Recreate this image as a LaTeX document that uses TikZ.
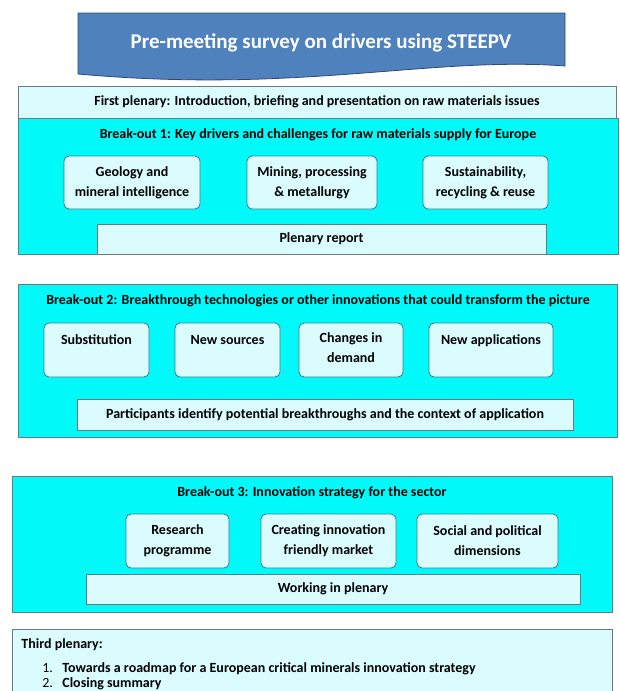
\documentclass[tikz,border=0pt]{standalone}
\usepackage{fontspec}
\setmainfont{Carlito}
\definecolor{bannerblue}{RGB}{79,129,189}
\definecolor{bannerdark}{RGB}{44,74,120}
\definecolor{breakcyan}{RGB}{0,250,250}
\definecolor{palecyan}{RGB}{218,252,254}
\definecolor{boxgrey}{RGB}{110,120,122}
\definecolor{topicedge}{RGB}{60,120,130}

\begin{document}
\begin{tikzpicture}[x=1pt,y=-1pt,line width=0.8pt,
	font=\bfseries\fontsize{14}{20}\selectfont,
	group/.style={draw=boxgrey,fill=breakcyan,inner sep=0pt},
	plenary/.style={draw=boxgrey,fill=palecyan,align=center,inner sep=0pt},
	topic/.style={draw=topicedge,fill=palecyan,rounded corners=5pt,align=center,inner sep=0pt},
	idea/.style={topic,minimum height=54pt,inner sep=6pt}]
	\useasboundingbox (0,0) rectangle (619,691);
	
	% survey banner
	\draw [draw=bannerdark,fill=bannerblue] (78,13) -- (565,13) -- (565,66)
		.. controls (430,56) and (300,94) .. (78,74) -- cycle;
	\node [text=white,font=\bfseries\fontsize{21}{24}\selectfont] (survey) at (321,43)
		{Pre-meeting survey on drivers using STEEPV};
	
	% first plenary and break-out 1
	\node [group,minimum width=600pt,minimum height=136pt] (break 1) at (318,186) {};
	\node [plenary,minimum width=598pt,minimum height=32pt] (first) at (317,102)
		{First plenary: Introduction, briefing and presentation on raw materials issues};
	\node (title 1) at (318,135) {Break-out 1: Key drivers and challenges for raw materials supply for Europe};
	\foreach [count=\n] \x/\w/\t in {132/136/{Geology and\\mineral intelligence},
		312/130/{Mining, processing\\\& metallurgy},485.5/125/{Sustainability,\\recycling \& reuse}}{
		\node [topic,minimum width=\w pt,minimum height=53pt] (driver \n) at (\x,182.5) {\t};
	}
	\node [plenary,minimum width=449pt,minimum height=30pt] (report) at (321.5,239) {Plenary report};
	
	% break-out 2
	\node [group,minimum width=599pt,minimum height=153pt] (break 2) at (317.5,360.5) {};
	\node (title 2) at (318,301) {Break-out 2: Breakthrough technologies or other innovations that could transform the picture};
	\foreach [count=\n] \x/\w/\h/\d/\t in {96.5/105/15/27/Substitution,227.5/105/15/27/New sources,
		351/104/33/9/{Changes in\\demand},491/124/15/27/New applications}{
		\node [idea,minimum width=\w pt,text height=\h pt,text depth=\d pt] (idea \n) at (\x,350) {\t};
	}
	\node [plenary,minimum width=496pt,minimum height=31pt] (participants) at (325,414.5)
		{Participants identify potential breakthroughs and the context of application};
	
	% break-out 3
	\node [group,minimum width=600pt,minimum height=136pt] (break 3) at (312,544) {};
	\node (title 3) at (312,493) {Break-out 3: Innovation strategy for the sector};
	\foreach [count=\n] \x/\w/\t in {177.5/103/{Research\\programme},
		328.5/135/{Creating innovation\\friendly market},487.5/141/{Social and political\\dimensions}}{
		\node [topic,minimum width=\w pt,minimum height=54pt] (strategy \n) at (\x,541) {\t};
	}
	\node [plenary,minimum width=494pt,minimum height=30pt] (working) at (333,589) {Working in plenary};
	
	% third plenary
	\node [plenary,minimum width=600pt,minimum height=71pt] (third) at (312,664.5) {};
	\node [anchor=north west,align=left,inner sep=0pt,font=\bfseries\fontsize{14}{15}\selectfont]
		(closing) at (21,638) {Third plenary:\\[9pt]
		\hspace*{21pt}\makebox[20pt][l]{\mdseries 1.}Towards a roadmap for a European critical minerals innovation strategy\\
		\hspace*{21pt}\makebox[20pt][l]{\mdseries 2.}Closing summary};
\end{tikzpicture}
\end{document}
